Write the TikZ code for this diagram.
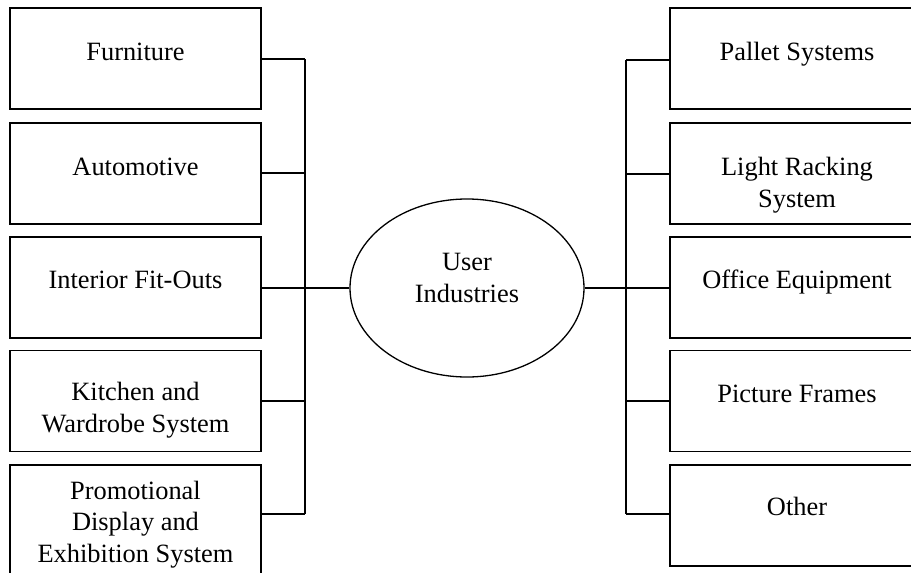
\documentclass[tikz,border=0pt]{standalone}
\usepackage{fontspec}
\setmainfont{Liberation Serif}
\usetikzlibrary{shapes.geometric}
\begin{document}
\begin{tikzpicture}[x=1pt,y=-1pt,
  box/.style={draw,line width=1.4pt,inner sep=0pt,minimum height=101pt},
  lbox/.style={box,minimum width=251pt},
  rbox/.style={box,minimum width=254pt},
  lbl/.style={anchor=base,inner sep=0pt,align=center,font=\fontsize{26.4}{31.5}\selectfont},
  conn/.style={draw,line width=1.3pt}]
\useasboundingbox (0,0) rectangle (911,573);
\clip (0,0) rectangle (911,573);
% left boxes
\node[lbox] (bL1) at (135.5,58.5) {};
\node[lbox] (bL2) at (135.5,173.5) {};
\node[lbox] (bL3) at (135.5,287.5) {};
\node[lbox] (bL4) at (135.5,401) {};
\node[lbox,minimum height=125pt] (bL5) at (135.5,527.5) {};
\node[lbl] (tL1) at (135.5,60) {Furniture};
\node[lbl] (tL2) at (135.5,175) {Automotive};
\node[lbl] (tL3) at (135.5,288) {Interior Fit-Outs};
\node[lbl] (tL4) at (135.5,432) {Kitchen and\\Wardrobe System};
\node[lbl] (tL5) at (135.5,562) {Promotional\\Display and\\Exhibition System};
% right boxes
\node[rbox] (bR1) at (797,58.5) {};
\node[rbox] (bR2) at (797,173.5) {};
\node[rbox] (bR3) at (797,287.5) {};
\node[rbox] (bR4) at (797,401) {};
\node[rbox] (bR5) at (797,515.5) {};
\node[lbl] (tR1) at (797,60) {Pallet Systems};
\node[lbl] (tR2) at (797,207) {Light Racking\\System};
\node[lbl] (tR3) at (797,288) {Office Equipment};
\node[lbl] (tR4) at (797,402) {Picture Frames};
\node[lbl] (tR5) at (797,515) {Other};
% centre
\node[draw,ellipse,line width=1.3pt,minimum width=234pt,minimum height=178pt,inner sep=0pt] (ell) at (467,288) {};
\node[lbl] (tU) at (467,302) {User\\Industries};
% bus coordinates
\coordinate (cL1) at (305,59);
\coordinate (cL2) at (305,173);
\coordinate (cL3) at (305,288);
\coordinate (cL4) at (305,401);
\coordinate (cL5) at (305,514);
\coordinate (cR1) at (626,60);
\coordinate (cR2) at (626,174);
\coordinate (cR3) at (626,288);
\coordinate (cR4) at (626,401);
\coordinate (cR5) at (626,514);
% left connectors
\draw[conn] (cL1) -- (cL5);
\draw[conn] (bL1.east |- cL1) -- (cL1);
\draw[conn] (bL2.east |- cL2) -- (cL2);
\draw[conn] (bL3.east |- cL3) -- (ell.west);
\draw[conn] (bL4.east |- cL4) -- (cL4);
\draw[conn] (bL5.east |- cL5) -- (cL5);
% right connectors
\draw[conn] (cR1) -- (cR5);
\draw[conn] (cR1) -- (bR1.west |- cR1);
\draw[conn] (cR2) -- (bR2.west |- cR2);
\draw[conn] (ell.east) -- (bR3.west |- cR3);
\draw[conn] (cR4) -- (bR4.west |- cR4);
\draw[conn] (cR5) -- (bR5.west |- cR5);
\end{tikzpicture}
\end{document}
